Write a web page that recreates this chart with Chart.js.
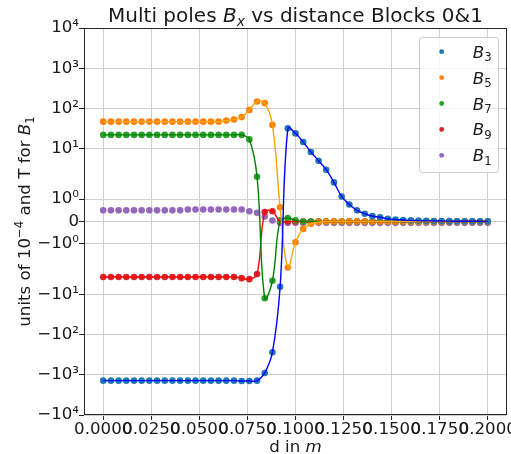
<!DOCTYPE html>
<html>
<head>
<meta charset="utf-8">
<title>Multi poles Bx vs distance</title>
<script src="https://cdn.jsdelivr.net/npm/chart.js@4.4.1/dist/chart.umd.min.js"></script>
<style>
  html, body { margin: 0; padding: 0; background: #fff; }
  canvas { display: block; }
</style>
</head>
<body>
<canvas id="myChart" width="511" height="454"></canvas>
<script>
// distance along the blocks, in m
const distance = [
  0.000, 0.004, 0.008, 0.012, 0.016, 0.020, 0.024, 0.028, 0.032, 0.036,
  0.040, 0.044, 0.048, 0.052, 0.056, 0.060, 0.064, 0.068, 0.072, 0.076,
  0.080, 0.084, 0.088, 0.092, 0.096, 0.100, 0.104, 0.108, 0.112, 0.116,
  0.120, 0.124, 0.128, 0.132, 0.136, 0.140, 0.144, 0.148, 0.152, 0.156,
  0.160, 0.164, 0.168, 0.172, 0.176, 0.180, 0.184, 0.188, 0.192, 0.196,
  0.200,
];

// multipoles, units of 1e-4 (B1 in T)
const b3 = [
  -1400, -1400, -1400, -1400, -1400, -1400, -1400, -1400, -1400, -1400,
  -1400, -1400, -1400, -1400, -1400, -1400, -1400, -1400, -1430, -1430,
  -1400, -900, -275, -6.5, 32, 24, 14.6, 8.3, 5.0, 3.0,
  1.75, 1.12, 0.76, 0.5, 0.35, 0.24, 0.19, 0.12, 0.09, 0.07,
  0.05, 0.04, 0.03, 0.025, 0.02, 0.015, 0.012, 0.01, 0.01, 0.008,
  0.006,
];
const b5 = [
  47, 47, 47, 47, 47, 47, 47, 47, 47, 47,
  47, 47, 47, 47, 47, 47, 50, 53, 61, 92,
  149, 136, 39, 0.64, -2.15, -0.93, -0.33, -0.1, -0.03, 0,
  0, 0, 0, 0, 0, 0, 0, 0, 0, 0,
  0, 0, 0, 0, 0, 0, 0, 0, 0, 0,
  0,
];
const b7 = [
  22, 22, 22, 22, 22, 22, 22, 22, 22, 22,
  22, 22, 22, 22, 22, 22, 22, 22, 22, 17,
  2.0, -12.5, -4.6, 0.05, 0.15, 0.05, 0, 0, 0, 0,
  0, 0, 0, 0, 0, 0, 0, 0, 0, 0,
  0, 0, 0, 0, 0, 0, 0, 0, 0, 0,
  0,
];
const b9 = [
  -3.7, -3.7, -3.7, -3.7, -3.7, -3.7, -3.7, -3.7, -3.7, -3.7,
  -3.7, -3.7, -3.7, -3.7, -3.7, -3.7, -3.7, -3.7, -3.96, -4.2,
  -3.14, 0.42, 0.46, 0, 0, 0, 0, 0, 0, 0,
  0, 0, 0, 0, 0, 0, 0, 0, 0, 0,
  0, 0, 0, 0, 0, 0, 0, 0, 0, 0,
  0,
];
const b1 = [
  0.5, 0.5, 0.5, 0.5, 0.5, 0.5, 0.5, 0.5, 0.5, 0.5,
  0.5, 0.54, 0.54, 0.54, 0.54, 0.54, 0.54, 0.54, 0.54, 0.46,
  0.39, 0.225, 0.045, -0.06, -0.06, -0.06, -0.06, -0.06, -0.06, -0.06,
  -0.06, -0.06, -0.06, -0.06, -0.06, -0.06, -0.06, -0.06, -0.06, -0.06,
  -0.06, -0.06, -0.06, -0.06, -0.06, -0.06, -0.06, -0.06, -0.06, -0.06,
  -0.06,
];

const xTicks = [0, 0.025, 0.05, 0.075, 0.1, 0.125, 0.15, 0.175, 0.2];
const yTicks = [-1e4, -1e3, -1e2, -10, -1, 0, 1, 10, 1e2, 1e3, 1e4];
const yTickLabels = ["−10⁴", "−10³", "−10²", "−10¹", "−10⁰", "0", "10⁰", "10¹", "10²", "10³", "10⁴"];

const FONT = "'DejaVu Sans', sans-serif";
const FS = 16.67;

// symmetric log transform, base 10
const linthresh = 2;
const linAdj = 1 / (1 - 1 / 10);
const symlog = (v) => {
  const a = Math.abs(v);
  if (a <= linthresh) return v * linAdj;
  return Math.sign(v) * linthresh * (linAdj + Math.log10(a / linthresh));
};
const symexp = (t) => {
  const a = Math.abs(t);
  if (a <= linthresh * linAdj) return t / linAdj;
  return Math.sign(t) * linthresh * Math.pow(10, a / linthresh - linAdj);
};

class SymlogScale extends Chart.LinearScale {
  static id = "symlog";
  static defaults = {};
  buildTicks() {
    return yTicks.map((v) => ({ value: v }));
  }
  getPixelForValue(v) {
    const t0 = symlog(this.min), t1 = symlog(this.max);
    return this.getPixelForDecimal((symlog(v) - t0) / (t1 - t0));
  }
  getValueForPixel(p) {
    const t0 = symlog(this.min), t1 = symlog(this.max);
    return symexp(t0 + this.getDecimalForPixel(p) * (t1 - t0));
  }
}
Chart.register(SymlogScale);

const pts = (ys) => distance.map((x, i) => ({ x, y: ys[i] }));

const series = [
  { name: "3", data: b3, dot: "#1f77b4", line: "#0000ff" },
  { name: "5", data: b5, dot: "#ff7f0e", line: "#ffa500" },
  { name: "7", data: b7, dot: "#2ca02c", line: "#008000" },
  { name: "9", data: b9, dot: "#d62728", line: "#ff0000" },
  { name: "1", data: b1, dot: "#9467bd", line: null },
];

// line datasets first so they sit above the dots
const datasets = [];
series.forEach((s) => {
  if (!s.line) return;
  datasets.push({
    label: "fit B" + s.name,
    data: pts(s.data),
    showLine: true,
    borderColor: s.line,
    borderWidth: 1.4,
    pointRadius: 0,
    tension: 0.4,
  });
});
series.forEach((s) => {
  datasets.push({
    label: "B" + s.name,
    data: pts(s.data),
    showLine: false,
    pointRadius: 3.3,
    pointBackgroundColor: s.dot,
    pointBorderWidth: 0,
  });
});

// text with italic / sub / superscript pieces, y is the baseline
function drawRich(ctx, parts, x, y, size, align) {
  let w = 0;
  const items = parts.map(([t, s]) => {
    const small = s.length > 1;
    const fs = small ? size * 0.7 : size;
    const font = (s[0] === "i" ? "italic " : "") + fs + "px " + FONT;
    ctx.font = font;
    const width = ctx.measureText(t).width;
    const dy = s[1] === "s" ? size * 0.22 : s[1] === "p" ? -size * 0.4 : 0;
    w += width;
    return { t, font, width, dy };
  });
  let cx = align === "center" ? x - w / 2 : align === "right" ? x - w : x;
  ctx.textAlign = "left";
  ctx.textBaseline = "alphabetic";
  items.forEach((it) => {
    ctx.font = it.font;
    ctx.fillText(it.t, cx, y + it.dy);
    cx += it.width;
  });
}

const decorations = {
  id: "decorations",
  afterDraw(chart) {
    const { ctx, chartArea: a } = chart;
    ctx.save();
    ctx.strokeStyle = "#262626";
    ctx.lineWidth = 1;
    ctx.strokeRect(a.left + 0.5, a.top + 0.5, a.width - 1, a.height - 1);

    ctx.fillStyle = "#1a1a1a";
    drawRich(ctx, [["Multi poles ", "n"], ["B", "i"], ["x", "is"], [" vs distance Blocks 0&1", "n"]],
      (a.left + a.right) / 2, 22, FS * 1.2, "center");
    drawRich(ctx, [["d in ", "n"], ["m", "i"]], (a.left + a.right) / 2, 452, FS, "center");

    ctx.save();
    ctx.translate(30, (a.top + a.bottom) / 2);
    ctx.rotate(-Math.PI / 2);
    drawRich(ctx, [["units of 10", "n"], ["−4", "np"], [" and T for ", "n"], ["B", "i"], ["1", "ns"]],
      0, 0, FS, "center");
    ctx.restore();

    // legend
    const lx = a.right - 88, ly = a.top + 9, lw = 79, lh = 135;
    ctx.beginPath();
    ctx.roundRect(lx + 0.5, ly + 0.5, lw, lh, 3);
    ctx.fillStyle = "rgba(255,255,255,0.8)";
    ctx.fill();
    ctx.strokeStyle = "#cccccc";
    ctx.stroke();
    series.forEach((s, k) => {
      const ry = ly + 14.7 + k * 25.9;
      ctx.beginPath();
      ctx.arc(lx + 22.7, ry, 2.4, 0, Math.PI * 2);
      ctx.fillStyle = s.dot;
      ctx.fill();
      ctx.fillStyle = "#1a1a1a";
      drawRich(ctx, [["B", "i"], [s.name, "ns"]], lx + 53.7, ry + 6, FS, "left");
    });
    ctx.restore();
  },
};

const gridColor = "#cfcfcf";

const config = {
  type: "scatter",
  data: { datasets },
  options: {
    responsive: false,
    animation: false,
    devicePixelRatio: 1,
    layout: { padding: { top: 28, right: 4, left: 0, bottom: 0 } },
    plugins: {
      legend: { display: false },
      tooltip: { enabled: false },
    },
    scales: {
      x: {
        type: "linear",
        min: -0.01,
        max: 0.21,
        afterBuildTicks: (scale) => {
          scale.ticks = xTicks.map((v) => ({ value: v }));
        },
        afterFit: (scale) => {
          scale.height = 39;
          scale.paddingLeft = 0;
          scale.paddingRight = 0;
        },
        grid: { color: gridColor, tickColor: "#262626", tickLength: 5 },
        border: { display: false },
        ticks: {
          autoSkip: false,
          maxRotation: 0,
          minRotation: 0,
          padding: 0,
          color: "#1a1a1a",
          font: { family: FONT, size: FS },
          callback: (v) => v.toFixed(4),
        },
      },
      y: {
        type: "symlog",
        min: -1e4,
        max: 1e4,
        afterFit: (scale) => {
          scale.width = 84;
          scale.paddingTop = 0;
          scale.paddingBottom = 0;
        },
        grid: { color: gridColor, tickColor: "#262626", tickLength: 5 },
        border: { display: false },
        ticks: {
          autoSkip: false,
          padding: 0,
          color: "#1a1a1a",
          font: { family: FONT, size: FS },
          callback: (v, i) => yTickLabels[i],
        },
      },
    },
  },
  plugins: [decorations],
};

const myChart = new Chart(document.getElementById("myChart"), config);
</script>
</body>
</html>
